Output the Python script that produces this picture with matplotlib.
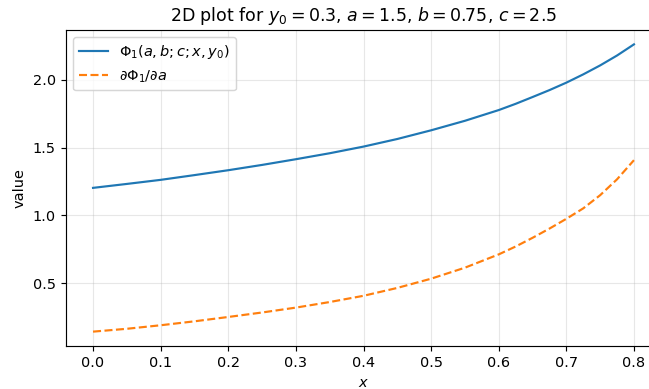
import matplotlib
matplotlib.use("Agg")
import matplotlib.pyplot as plt

x_vals = [0.0, 0.05, 0.1, 0.15, 0.2, 0.25, 0.3, 0.35, 0.4, 0.45, 0.5, 0.55, 0.6,
          0.625, 0.65, 0.675, 0.7, 0.725, 0.75, 0.775, 0.8]
phi_vals = [1.203, 1.232, 1.262, 1.297, 1.333, 1.372, 1.414, 1.458, 1.507, 1.563, 1.627,
            1.697, 1.776, 1.822, 1.872, 1.923, 1.978, 2.039, 2.105, 2.178, 2.26]
dphi_da_vals = [0.144, 0.165, 0.191, 0.22, 0.252, 0.285, 0.321, 0.362, 0.408, 0.466, 0.534,
                0.615, 0.713, 0.771, 0.835, 0.903, 0.975, 1.052, 1.149, 1.266, 1.407]

title = r"2D plot for $y_0 = 0.3$, $a = 1.5$, $b = 0.75$, $c = 2.5$"
label_phi = r"$\Phi_1(a,b;c;x,y_0)$"
label_dphi = r"$\partial\Phi_1/\partial a$"

DPI = 104
fig = plt.figure(figsize=(649 / DPI, 389 / DPI), dpi=DPI)
W, H = 649, 389
ax = fig.add_axes([66 / W, 1 - 346 / H, (661 - 66) / W, (346 - 30) / H])
ax.plot(x_vals, phi_vals, color="#1f77b4", lw=1.5, label=label_phi)
ax.plot(x_vals, dphi_da_vals, color="#ff7f0e", lw=1.5, ls="--", label=label_dphi)
ax.set_title(title)
ax.set_xlabel(r"$x$")
ax.set_ylabel("value")
ax.grid(True, alpha=0.3)
ax.legend(loc="upper left")
fig.savefig("out.png", dpi=DPI)
